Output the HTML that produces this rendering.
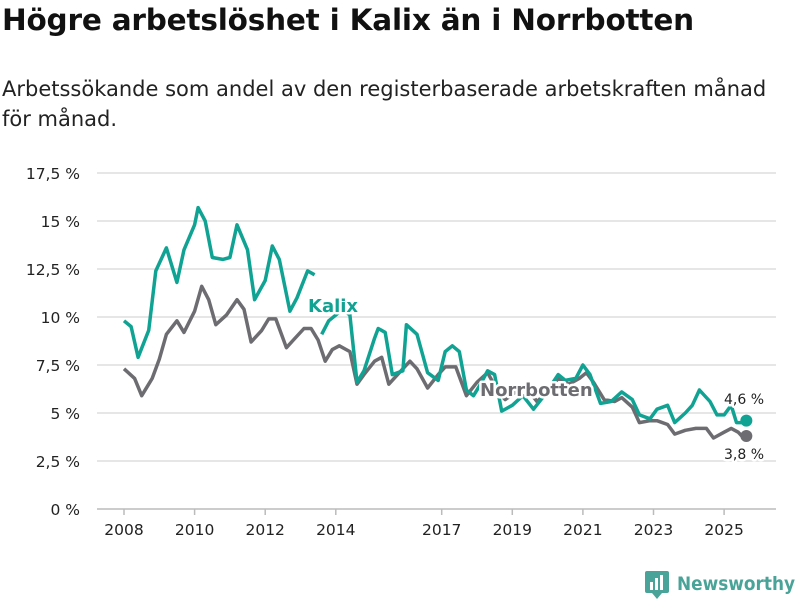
<!DOCTYPE html>
<html><head><meta charset="utf-8"><style>
body{margin:0;background:#fff;font-family:"DejaVu Sans","Liberation Sans",sans-serif;}
#wrap{position:relative;width:800px;height:600px;overflow:hidden}
h1{position:absolute;left:2px;top:3px;margin:0;font-size:29.5px;font-weight:bold;color:#111;letter-spacing:-0.2px}
p.sub{position:absolute;left:2px;top:74px;margin:0;font-size:21px;line-height:30px;color:#222;width:790px}
svg{position:absolute;left:0;top:0}
</style></head><body>
<div id="wrap">
<h1>Högre arbetslöshet i Kalix än i Norrbotten</h1>
<p class="sub">Arbetssökande som andel av den registerbaserade arbetskraften månad för månad.</p>
<svg id="c" width="800" height="600"></svg>
</div>
<script>
const yTicks=[0,2.5,5,7.5,10,12.5,15,17.5];
const yTickLabels=["0 %","2,5 %","5 %","7,5 %","10 %","12,5 %","15 %","17,5 %"];
const xTicks=[2008,2010,2012,2014,2017,2019,2021,2023,2025];
const kalixT=[2008.0,2008.2,2008.4,2008.7,2008.9,2009.2,2009.5,2009.7,2010.0,2010.1,2010.3,2010.5,2010.8,2011.0,2011.2,2011.5,2011.7,2012.0,2012.2,2012.4,2012.7,2012.9,2013.2,2013.4,null,2013.6,2013.8,2014.2,2014.4,2014.6,2014.8,2015.1,2015.2,2015.4,2015.6,2015.9,2016.0,2016.3,2016.6,2016.9,2017.1,2017.3,2017.5,2017.7,2017.9,2018.1,2018.3,2018.5,2018.7,2019.0,2019.3,2019.6,2019.9,2020.3,2020.5,2020.8,2021.0,2021.2,2021.5,2021.8,2022.1,2022.4,2022.6,2022.9,2023.1,2023.4,2023.6,2023.9,2024.1,2024.3,2024.6,2024.8,2025.0,2025.2,2025.35,2025.5,2025.63];
const kalixV=[9.8,9.5,7.9,9.3,12.4,13.6,11.8,13.5,14.8,15.7,15.0,13.1,13.0,13.1,14.8,13.5,10.9,11.9,13.7,13.0,10.3,11.0,12.4,12.2,null,9.1,9.8,10.4,10.1,6.6,7.2,8.9,9.4,9.2,7.0,7.2,9.6,9.1,7.1,6.7,8.2,8.5,8.2,6.2,5.9,6.5,7.2,7.0,5.1,5.4,5.9,5.2,5.9,7.0,6.7,6.8,7.5,7.0,5.5,5.6,6.1,5.7,4.9,4.7,5.2,5.4,4.5,5.0,5.4,6.2,5.6,4.9,4.9,5.4,4.5,4.5,4.6];
const norrT=[2008.0,2008.3,2008.5,2008.8,2009.0,2009.2,2009.5,2009.7,2010.0,2010.2,2010.4,2010.6,2010.9,2011.2,2011.4,2011.6,2011.9,2012.1,2012.3,2012.6,2012.8,2013.1,2013.3,2013.5,2013.7,2013.9,2014.1,2014.4,2014.6,2014.8,2015.1,2015.3,2015.5,2015.8,2016.1,2016.3,2016.6,2016.9,2017.1,2017.4,2017.7,2018.0,2018.3,2018.6,2018.8,2019.1,2019.4,2019.7,2020.0,2020.3,2020.6,2020.9,2021.1,2021.3,2021.6,2021.9,2022.1,2022.4,2022.6,2022.9,2023.1,2023.4,2023.6,2023.9,2024.2,2024.5,2024.7,2025.0,2025.2,2025.4,2025.5,2025.63];
const norrV=[7.3,6.8,5.9,6.8,7.8,9.1,9.8,9.2,10.3,11.6,10.9,9.6,10.1,10.9,10.4,8.7,9.3,9.9,9.9,8.4,8.8,9.4,9.4,8.8,7.7,8.3,8.5,8.2,6.5,7.0,7.7,7.9,6.5,7.1,7.7,7.3,6.3,7.0,7.4,7.4,5.9,6.6,7.1,6.1,5.7,6.1,6.3,5.6,6.1,6.8,6.5,6.8,7.1,6.6,5.7,5.6,5.8,5.3,4.5,4.6,4.6,4.4,3.9,4.1,4.2,4.2,3.7,4.0,4.2,4.0,3.8,3.8];
const svg=document.getElementById('c');const NS='http://www.w3.org/2000/svg';
const X=t=>124+(t-2008)*35.3, Y=v=>509-v*19.2;
function mk(tag,attrs,parent){const e=document.createElementNS(NS,tag);for(const k in attrs)e.setAttribute(k,attrs[k]);(parent||svg).appendChild(e);return e;}
yTicks.forEach((v,i)=>{
 const l=mk('line',{x1:97,x2:776,y1:Y(v),y2:Y(v),stroke:v===0?'#bbb':'#ddd','stroke-width':1.5});
 
 
 const t=mk('text',{x:80,y:Y(v)+6,'text-anchor':'end','font-size':15.5,fill:'#222'});t.textContent=yTickLabels[i];
 
 
});
xTicks.forEach(yr=>{
 const tk=mk('line',{x1:X(yr),x2:X(yr),y1:509,y2:515,stroke:'#bbb','stroke-width':1.5});
 
 
 const t=mk('text',{x:X(yr),y:535,'text-anchor':'middle','font-size':15.5,fill:'#222'});t.textContent=yr;
 
 
});
function path(T,V){let d='',pen=false;T.forEach((t,i)=>{if(t===null){pen=false;return;}d+=(pen?'L':'M')+X(t).toFixed(1)+' '+Y(V[i]).toFixed(1);pen=true;});return d;}
const pn=mk('path',{d:path(norrT,norrV),fill:'none',stroke:'#6d6c70','stroke-width':3.5,'stroke-linejoin':'round'});


const pk=mk('path',{d:path(kalixT,kalixV),fill:'none',stroke:'#10a393','stroke-width':3.5,'stroke-linejoin':'round'});


const ck=mk('circle',{cx:X(kalixT[kalixT.length-1]),cy:Y(kalixV[kalixV.length-1]),r:6,fill:'#10a393'});


const cn=mk('circle',{cx:X(norrT[norrT.length-1]),cy:Y(norrV[norrV.length-1]),r:6,fill:'#6d6c70'});


function label(txt,x,y,col,name,bold,size){const t=mk('text',{x:x,y:y,'font-size':size,'font-weight':bold?'bold':'normal',fill:col,stroke:'#fff','stroke-width':5,'paint-order':'stroke','stroke-linejoin':'round'});t.textContent=txt;
 
 }
label('Kalix',308,312,'#10a393','kalix-label',true,18);
label('Norrbotten',480,396,'#6d6c70','norrbotten-label',true,18);
label('4,6 %',724,404,'#222','kalix-end-value',false,14);
label('3,8 %',724,459,'#222','norrbotten-end-value',false,14);
const g=mk('g',{});
mk('rect',{x:645,y:571,width:24,height:22,rx:2,fill:'#4aa398'},g);
mk('rect',{x:650,y:582,width:3,height:8,fill:'#fff'},g);
mk('rect',{x:655,y:578,width:3,height:12,fill:'#fff'},g);
mk('rect',{x:660,y:575,width:3,height:15,fill:'#fff'},g);
mk('path',{d:'M652 593 L657 599 L662 593 Z',fill:'#4aa398'},g);
const lt=mk('text',{x:677,y:590,'font-size':19,'font-weight':'bold',fill:'#4aa398',textLength:118,lengthAdjust:'spacingAndGlyphs'},g);lt.textContent='Newsworthy';
</script>
</body></html>
